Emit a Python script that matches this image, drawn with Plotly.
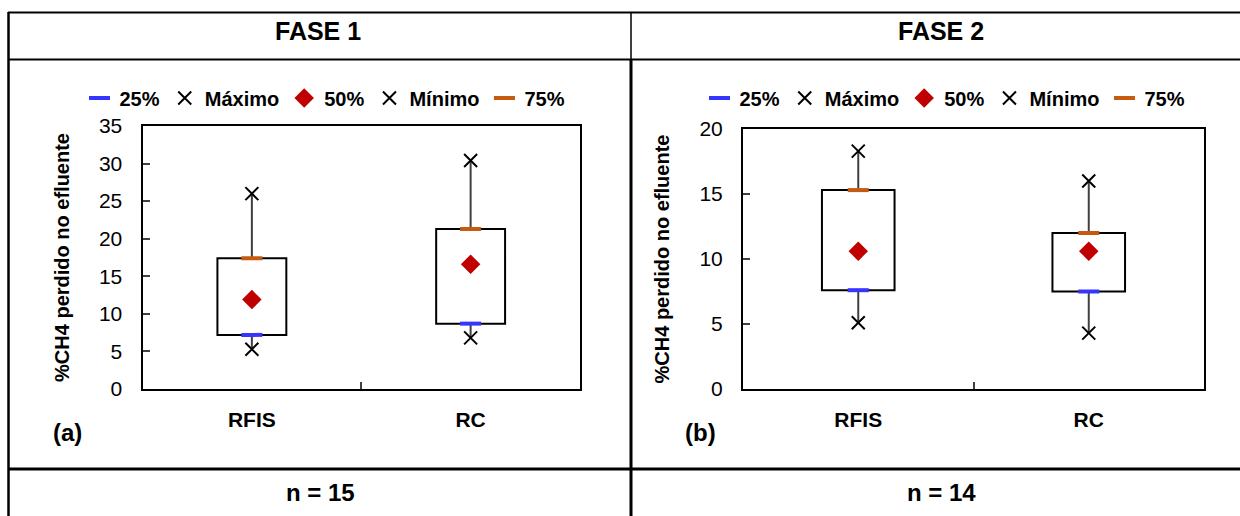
import plotly.graph_objects as go

W, H = 1240, 516

categorias = ["RFIS", "RC"]

# FASE 1 (n = 15): %CH4 perdido no efluente
f1_min = [5.3, 6.8]
f1_q1 = [7.2, 8.7]
f1_med = [11.9, 16.6]
f1_q3 = [17.4, 21.3]
f1_max = [26.0, 30.4]

# FASE 2 (n = 14)
f2_min = [5.1, 4.3]
f2_q1 = [7.6, 7.5]
f2_med = [10.6, 10.6]
f2_q3 = [15.3, 12.0]
f2_max = [18.3, 16.0]

cabecalhos = ["FASE 1", "FASE 2"]
rotulos_n = ["n = 15", "n = 14"]
paineis = ["(a)", "(b)"]
y_max = [35, 20]

FONTE = "Liberation Sans, Arial, sans-serif"

AZUL = "#3535FF"
LARANJA = "#C55A11"
VERMELHO = "#C00000"
CINZA = "#404040"


def px(x):
    return x / W


def py(y):
    return 1 - y / H


fig = go.Figure()

series = [
    (f1_min, f1_q1, f1_med, f1_q3, f1_max),
    (f2_min, f2_q1, f2_med, f2_q3, f2_max),
]

for i, (mn, q1, md, q3, mx) in enumerate(series):
    xa = "x" if i == 0 else "x2"
    ya = "y" if i == 0 else "y2"
    leg = "legend" if i == 0 else "legend2"

    # caixa entre 25% e 75%
    fig.add_trace(go.Bar(
        x=categorias, y=[b - a for a, b in zip(q1, q3)], base=q1,
        width=0.315, marker=dict(color="white", line=dict(color="black", width=2)),
        showlegend=False, hoverinfo="skip", xaxis=xa, yaxis=ya,
    ))

    # bigodes: mínimo-25% e 75%-máximo
    wx, wy = [], []
    for c, a, b, c3, d in zip(categorias, mn, q1, q3, mx):
        wx += [c, c, None, c, c, None]
        wy += [a, b, None, c3, d, None]
    fig.add_trace(go.Scatter(
        x=wx, y=wy, mode="lines", line=dict(color=CINZA, width=2),
        showlegend=False, hoverinfo="skip", xaxis=xa, yaxis=ya,
    ))

    marcadores = [
        ("25%", q1, dict(symbol="line-ew", size=15, color=AZUL, line=dict(color=AZUL, width=4))),
        ("Máximo", mx, dict(symbol="x-thin", size=13, color="black", line=dict(color="black", width=2))),
        ("50%", md, dict(symbol="diamond", size=15, color=VERMELHO, line=dict(width=0))),
        ("Mínimo", mn, dict(symbol="x-thin", size=13, color="black", line=dict(color="black", width=2))),
        ("75%", q3, dict(symbol="line-ew", size=15, color=LARANJA, line=dict(color=LARANJA, width=4))),
    ]
    for nome, vals, mk in marcadores:
        fig.add_trace(go.Scatter(
            x=categorias, y=vals, mode="markers", name=nome, marker=mk,
            legend=leg, xaxis=xa, yaxis=ya,
        ))

eixo_x = dict(
    type="category", range=[-0.5, 1.5], showline=True, mirror=True,
    linecolor="black", linewidth=2, ticks="inside", ticklen=7, tickwidth=1.5,
    tickcolor="#404040", tickson="boundaries", showgrid=False, zeroline=False,
    tickfont=dict(family=FONTE, size=21, color="black", weight="bold"),
    ticklabelstandoff=11,
)
eixo_y = dict(
    showline=True, mirror=True, linecolor="black", linewidth=2,
    ticks="inside", ticklen=7, tickwidth=1.5, tickcolor="#404040",
    dtick=5, showgrid=False, zeroline=False,
    tickfont=dict(family=FONTE, size=21, color="black"), ticklabelstandoff=14,
    title=dict(text="%CH4 perdido no efluente", standoff=24,
               font=dict(family=FONTE, size=20, color="black", weight="bold")),
)

leg_base = dict(
    orientation="h", xanchor="center", yanchor="middle", y=py(98),
    font=dict(family=FONTE, size=20, color="black", weight="bold"),
    bgcolor="rgba(0,0,0,0)", itemwidth=30, traceorder="normal",
)

fig.update_layout(
    width=W, height=H, margin=dict(l=0, r=0, t=0, b=0, autoexpand=False),
    paper_bgcolor="white", plot_bgcolor="white", barmode="overlay",
    showlegend=True,
    xaxis=dict(eixo_x, domain=[px(142.5), px(580)], anchor="y"),
    yaxis=dict(eixo_y, domain=[py(389), py(126)], range=[0, y_max[0]], anchor="x"),
    xaxis2=dict(eixo_x, domain=[px(743), px(1204)], anchor="y2"),
    yaxis2=dict(eixo_y, domain=[py(389), py(129)], range=[0, y_max[1]], anchor="x2"),
    legend=dict(leg_base, x=px(325)),
    legend2=dict(leg_base, x=px(945)),
)

# grade da tabela
linhas = [
    (8, 12.5, 1240, 12.5, 2),
    (8, 59.5, 1240, 59.5, 2),
    (8, 469, 1240, 469, 3),
    (8.5, 12, 8.5, 516, 2.5),
    (631, 12, 631, 59.5, 1.5),
    (631, 59.5, 631, 516, 3),
]
for x0, y0, x1, y1, w in linhas:
    fig.add_shape(type="line", xref="paper", yref="paper",
                  x0=px(x0), y0=py(y0), x1=px(x1), y1=py(y1),
                  line=dict(color="black", width=w))


def texto_fixo(texto, x, y, tamanho):
    fig.add_annotation(text=texto, x=px(x), y=py(y), xref="paper", yref="paper",
                       xanchor="center", yanchor="middle", showarrow=False,
                       font=dict(family=FONTE, size=tamanho, color="black", weight="bold"))


for texto, x in zip(cabecalhos, [318, 941]):
    texto_fixo(texto, x, 31, 25)
for texto, x in zip(rotulos_n, [320, 941]):
    texto_fixo(texto, x, 492, 24)
for texto, x in zip(paineis, [67, 700]):
    texto_fixo(texto, x, 432, 24)

fig.write_html("out.html")
